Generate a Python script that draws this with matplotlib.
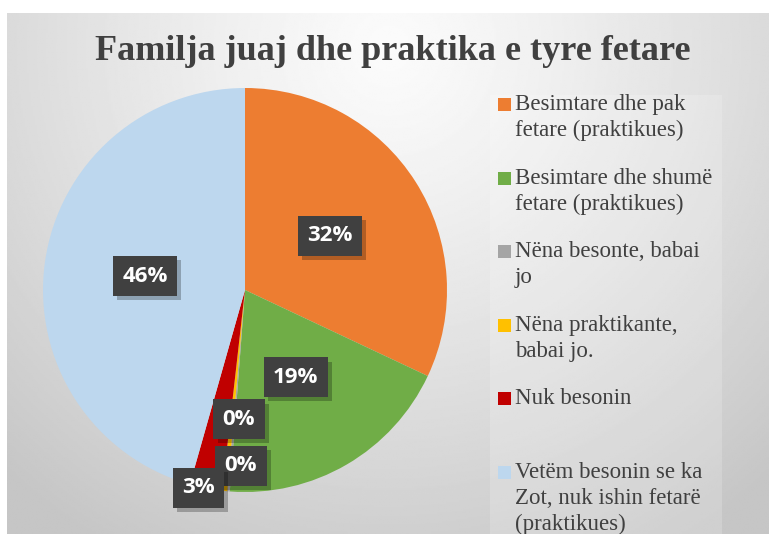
import numpy as np
import matplotlib
matplotlib.use("Agg")
import matplotlib.pyplot as plt
import matplotlib.patheffects as pe
from matplotlib.patches import Rectangle

# data
categories = [
    "Besimtare dhe pak\nfetare (praktikues)",
    "Besimtare dhe shumë\nfetare (praktikues)",
    "Nëna besonte, babai\njo",
    "Nëna praktikante,\nbabai jo.",
    "Nuk besonin",
    "Vetëm besonin se ka\nZot, nuk ishin fetarë\n(praktikues)",
]
values = [32.0, 19.2, 0.2, 0.4, 2.6, 45.6]
colors = ["#ED7D31", "#70AD47", "#A5A5A5", "#FFC000", "#C00000", "#BDD7EE"]
# label offsets for the thin slices (None = inside the slice)
label_pos = [None, None, (-0.03, -0.64), (-0.02, -0.87), (-0.23, -0.98), None]

W, H = 769, 534
fig = plt.figure(figsize=(W / 100, H / 100), dpi=100)

# grey gradient background panel (light at top centre)
bg = fig.add_axes([7 / W, 0, 1 - 7 / W, (H - 13) / H])
yy, xx = np.mgrid[0:300, 0:400]
d = np.sqrt(((xx - 200) / 300.0) ** 2 + ((yy - 20) / 330.0) ** 2)
d = np.clip(d, 0, 1)
shade = 0.985 - 0.21 * d ** 1.2
bg.imshow(shade, cmap="gray", vmin=0, vmax=1, aspect="auto", extent=[0, 1, 0, 1])
bg.add_patch(Rectangle((483 / (W - 7), 0), 232 / (W - 7), (534 - 95) / (H - 13),
                       transform=bg.transAxes, facecolor="white", alpha=0.18, lw=0))
bg.axis("off")

fig.text(393 / W, 1 - 52 / H, "Familja juaj dhe praktika e tyre fetare",
         ha="center", va="center", fontsize=26, fontweight="bold",
         family="Liberation Serif", color="#404040")

# pie
R = 202
cx, cy = 245, 290
ax = fig.add_axes([(cx - R) / W, (H - cy - R) / H, 2 * R / W, 2 * R / H])
wedges, _ = ax.pie(values, colors=colors, startangle=90, counterclock=False,
                   radius=1, wedgeprops=dict(linewidth=0))
ax.set_xlim(-1, 1)
ax.set_ylim(-1, 1)
ax.axis("off")

for w, v, pos in zip(wedges, values, label_pos):
    if pos is None:
        ang = np.deg2rad((w.theta1 + w.theta2) / 2)
        pos = (0.5 * np.cos(ang), 0.5 * np.sin(ang))
    t = ax.text(pos[0], pos[1], f"{round(v):.0f}%", ha="center", va="center",
                fontsize=16, fontweight="bold", family="Open Sans", color="white",
                bbox=dict(boxstyle="square,pad=0.42", facecolor="#404040", edgecolor="none"))
    t.get_bbox_patch().set_path_effects([
        pe.SimplePatchShadow(offset=(3, -3), shadow_rgbFace="black", alpha=0.25), pe.Normal()])

# legend
y0 = 105
for i, (lab, c) in enumerate(zip(categories, colors)):
    y = y0 + i * 73.6
    fig.patches.append(Rectangle((498 / W, 1 - (y + 6) / H), 13 / W, 13 / H,
                                 transform=fig.transFigure, facecolor=c, lw=0))
    fig.text(515 / W, 1 - (y - 11) / H, lab, ha="left", va="top", fontsize=16.5,
             family="Liberation Serif", color="#404040", linespacing=1.3)

fig.savefig("out.png", dpi=100)
